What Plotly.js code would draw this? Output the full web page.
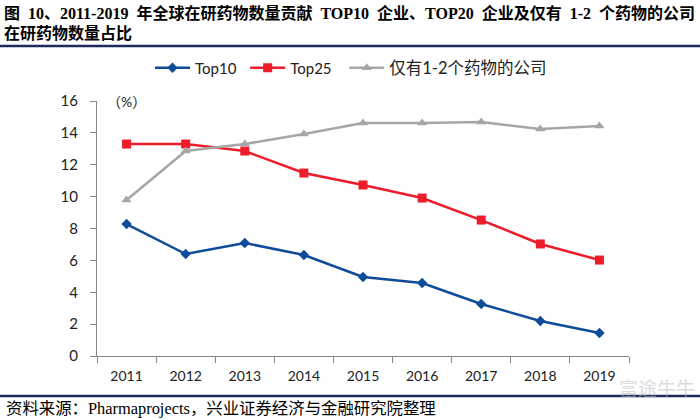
<!DOCTYPE html>
<html>
<head>
<meta charset="utf-8">
<script src="https://cdn.plot.ly/plotly-3.0.1.min.js"></script>
<style>html,body{margin:0;padding:0;background:#fff;}#chart{width:700px;height:420px;}</style>
</head>
<body>
<div id="chart"></div>
<script>
const years = ['2011','2012','2013','2014','2015','2016','2017','2018','2019'];
const top10 = [8.28, 6.40, 7.09, 6.34, 4.96, 4.58, 3.26, 2.20, 1.44];
const top25 = [13.30, 13.30, 12.86, 11.48, 10.73, 9.91, 8.53, 7.03, 6.02];
const small = [9.79, 12.86, 13.30, 13.93, 14.62, 14.62, 14.68, 14.24, 14.43];
const names = ['Top10', 'Top25', '仅有1-2个药物的公司'];
const titleLine1 = '图 10、2011-2019 年全球在研药物数量贡献 TOP10 企业、TOP20 企业及仅有 1-2 个药物的公司';
const titleLine2 = '在研药物数量占比';
const sourceText = '资料来源：Pharmaprojects，兴业证券经济与金融研究院整理';
const watermark = '富途牛牛';

const sans = 'Lato, "Noto Sans CJK SC", sans-serif';
const serif = '"Liberation Serif", "Noto Sans CJK SC", serif';

// widen word gaps the way the original typesetting does
const wide = s => s.split(' ').join('&nbsp; ');

const traces = [
  {x: years, y: top10, name: names[0] + '&nbsp;', type: 'scatter', mode: 'lines+markers',
   line: {color: '#0E4C9B', width: 2.5}, marker: {symbol: 'diamond', size: 8, color: '#0E4C9B'}},
  {x: years, y: top25, name: names[1] + '&nbsp;&nbsp;', type: 'scatter', mode: 'lines+markers',
   line: {color: '#EE1C2A', width: 2.5}, marker: {symbol: 'square', size: 9, color: '#EE1C2A'}},
  {x: years, y: small, name: '<span style="font-size:16.5px">' + names[2] + '</span>', type: 'scatter', mode: 'lines+markers',
   line: {color: '#A6A6A6', width: 2.5}, marker: {symbol: 'triangle-up', size: 9, color: '#A6A6A6'}}
];

const layout = {
  width: 700, height: 420,
  margin: {l: 97, r: 71, t: 101, b: 64},
  paper_bgcolor: '#fff', plot_bgcolor: '#fff',
  showlegend: true,
  legend: {orientation: 'h', x: (150-97)/532, xanchor: 'left', y: (356-68)/255, yanchor: 'middle',
           font: {family: sans, size: 15, color: '#222'}, itemwidth: 35},
  xaxis: {type: 'category', range: [-0.5, 8.5], showline: true, linecolor: '#888', linewidth: 1,
          ticks: 'outside', ticklen: 6, tickcolor: '#888', tickson: 'boundaries', ticklabelstandoff: 7,
          showgrid: false, zeroline: false, tickfont: {family: sans, size: 14, color: '#222'}},
  yaxis: {range: [0, 16], dtick: 2, showline: true, linecolor: '#888', linewidth: 1,
          ticks: 'outside', ticklen: 6, tickcolor: '#888', showgrid: false, zeroline: false, ticklabelstandoff: 9,
          tickfont: {family: sans, size: 15, color: '#222'}},
  annotations: [
    {text: wide(titleLine1), xref: 'paper', yref: 'paper', x: -95/532, y: (356-13)/255, xanchor: 'left', yanchor: 'middle',
     align: 'left', showarrow: false, font: {family: serif, size: 16, color: '#000', weight: 'bold'}},
    {text: titleLine2, xref: 'paper', yref: 'paper', x: -95/532, y: (356-33)/255, xanchor: 'left', yanchor: 'middle',
     align: 'left', showarrow: false, font: {family: serif, size: 16, color: '#000', weight: 'bold'}},
    {text: sourceText, xref: 'paper', yref: 'paper', x: -93/532, y: (356-408)/255, xanchor: 'left', yanchor: 'middle',
     align: 'left', showarrow: false, font: {family: serif, size: 16.4, color: '#000'}},
    {text: '（%）', xref: 'paper', yref: 'paper', x: 8/532, y: 1.0, xanchor: 'left', yanchor: 'middle',
     showarrow: false, font: {family: sans, size: 14, color: '#222'}},
    {text: watermark, xref: 'paper', yref: 'paper', x: (617-97)/532, y: (356-388)/255, xanchor: 'left', yanchor: 'middle',
     showarrow: false, font: {family: sans, size: 19, color: 'rgba(185,190,196,0.55)'}}
  ],
  shapes: [
    {type: 'line', xref: 'paper', yref: 'paper', x0: -97/532, x1: 603/532, y0: (356-46)/255, y1: (356-46)/255,
     line: {color: '#1F2A5C', width: 2.5}},
    {type: 'line', xref: 'paper', yref: 'paper', x0: -97/532, x1: 603/532, y0: (356-396)/255, y1: (356-396)/255,
     line: {color: '#1F2A5C', width: 2.5}}
  ]
};

Plotly.newPlot('chart', traces, layout, {displayModeBar: false, staticPlot: true});
</script>
</body>
</html>
